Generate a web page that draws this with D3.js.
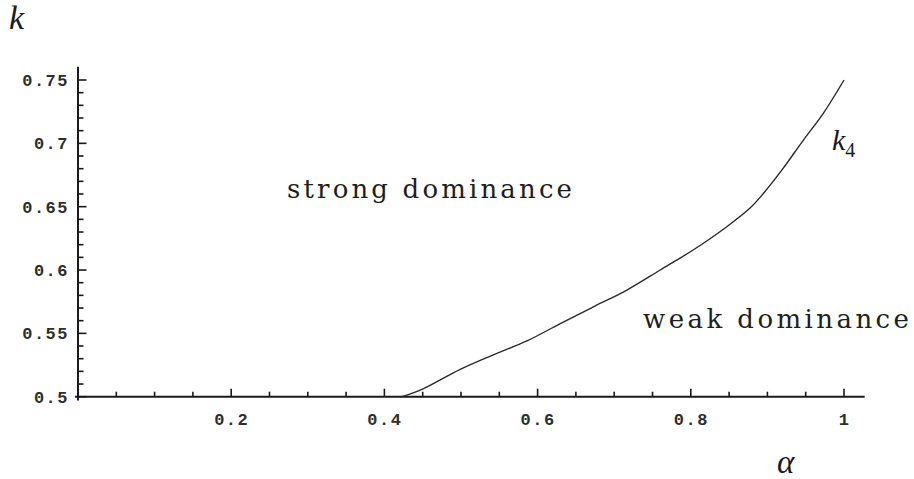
<!DOCTYPE html>
<html>
<head>
<meta charset="utf-8">
<script src="https://cdn.jsdelivr.net/npm/d3@7"></script>
<style>
  body { margin: 0; background: #fff; }
  svg { display: block; }
</style>
</head>
<body>
<svg id="vis"></svg>
<script>
const WIDTH = 914;
const HEIGHT = 479;
const INK = '#1a1a1a';

// boundary curve k4(alpha)
var alpha = [0.4226, 0.449, 0.499, 0.542, 0.586, 0.629, 0.673, 0.716, 0.760, 0.803, 0.847, 0.877, 0.895, 0.919, 0.947, 0.973, 1.0];
var k4 = [0.5, 0.5058, 0.5216, 0.533, 0.5440, 0.5575, 0.571, 0.584, 0.600, 0.6158, 0.6342, 0.6487, 0.6606, 0.679, 0.7026, 0.7237, 0.75];

var xTicks = [0.2, 0.4, 0.6, 0.8, 1];
var xMinor = [0.05, 0.1, 0.15, 0.25, 0.3, 0.35, 0.45, 0.5, 0.55, 0.65, 0.7, 0.75, 0.85, 0.9, 0.95];
var yTicks = [0.5, 0.55, 0.6, 0.65, 0.7, 0.75];
var yMinor = [0.51, 0.52, 0.53, 0.54, 0.56, 0.57, 0.58, 0.59, 0.61, 0.62, 0.63, 0.64,
              0.66, 0.67, 0.68, 0.69, 0.71, 0.72, 0.73, 0.74];

var regionLabels = ['strong dominance', 'weak dominance'];

var svg = d3.select('#vis').attr('width', WIDTH).attr('height', HEIGHT);

var x = d3.scaleLinear().domain([0, 1]).range([78, 844]);
var y = d3.scaleLinear().domain([0.5, 0.75]).range([396.7, 80]);

function tickFmt(d) {
    return String(+d.toFixed(2));
}

function styleLabels(g) {
    g.select('.domain').remove();
    g.selectAll('.tick line').remove();
    g.selectAll('.tick text')
        .attr('fill', '#2e2e2e')
        .attr('font-family', '"Liberation Mono", "DejaVu Sans Mono", monospace')
        .attr('font-weight', 'bold')
        .attr('font-size', 17)
        .attr('letter-spacing', 1.5);
}

function tickMarks(svg, vals, len, vertical) {
    var g = svg.append('g');
    g.selectAll('line').data(vals).enter().append('line')
        .attr('x1', function(d) { return vertical ? x(0) : x(d); })
        .attr('x2', function(d) { return vertical ? x(0) + len : x(d); })
        .attr('y1', function(d) { return vertical ? y(d) : y(0.5); })
        .attr('y2', function(d) { return vertical ? y(d) : y(0.5) - len; })
        .attr('stroke', INK)
        .attr('stroke-width', 1.6);
}

function drawAxes(svg) {
    var origin = y(0.5);
    // tick labels only, marks drawn by hand so they point into the plot
    svg.append('g').attr('transform', 'translate(' + x(0) + ',0)')
        .call(d3.axisLeft(y).tickValues(yTicks).tickSize(0).tickPadding(9).tickFormat(tickFmt))
        .call(styleLabels);
    svg.append('g').attr('transform', 'translate(0,' + origin + ')')
        .call(d3.axisBottom(x).tickValues(xTicks).tickSize(0).tickPadding(16).tickFormat(tickFmt))
        .call(styleLabels);

    tickMarks(svg, yMinor, 5.5, true);
    tickMarks(svg, yTicks, 8.5, true);
    tickMarks(svg, xMinor, 5, false);
    tickMarks(svg, xTicks, 8, false);

    svg.append('line')
        .attr('x1', x(0)).attr('x2', x(0))
        .attr('y1', y(0.497)).attr('y2', y(0.7605))
        .attr('stroke', INK).attr('stroke-width', 2);
    svg.append('line')
        .attr('x1', x(-0.004)).attr('x2', x(1.027))
        .attr('y1', origin).attr('y2', origin)
        .attr('stroke', INK).attr('stroke-width', 2);
}

function drawCurve(svg) {
    var pts = alpha.map(function(a, i) { return [a, k4[i]]; });
    var line = d3.line()
        .x(function(d) { return x(d[0]); })
        .y(function(d) { return y(d[1]); })
        .curve(d3.curveCatmullRom.alpha(0.5));
    svg.append('path')
        .datum(pts)
        .attr('d', line)
        .attr('fill', 'none')
        .attr('stroke', '#2a2a2a')
        .attr('stroke-width', 1.4);
}

function italicLabel(svg, txt, px, py, size) {
    return svg.append('text')
        .attr('x', px).attr('y', py)
        .attr('font-family', '"Liberation Serif", "DejaVu Serif", serif')
        .attr('font-style', 'italic')
        .attr('font-size', size)
        .attr('fill', INK)
        .text(txt);
}

function regionLabel(svg, txt, px, py, len) {
    svg.append('text')
        .attr('x', px).attr('y', py)
        .attr('font-family', '"DejaVu Serif", serif')
        .attr('font-size', 26)
        .attr('fill', '#1e1e1e')
        .attr('textLength', len)
        .attr('lengthAdjust', 'spacing')
        .text(txt);
}

drawAxes(svg);
drawCurve(svg);

italicLabel(svg, 'k', 9, 29, 34);
italicLabel(svg, 'α', 777, 473, 33);
var kl = italicLabel(svg, 'k', 832, 150, 30);
kl.append('tspan').attr('font-style', 'normal').attr('font-size', 20).attr('dy', 7).text('4');

regionLabel(svg, regionLabels[0], 287, 198, 285);
regionLabel(svg, regionLabels[1], 643, 328, 266);
</script>
</body>
</html>
